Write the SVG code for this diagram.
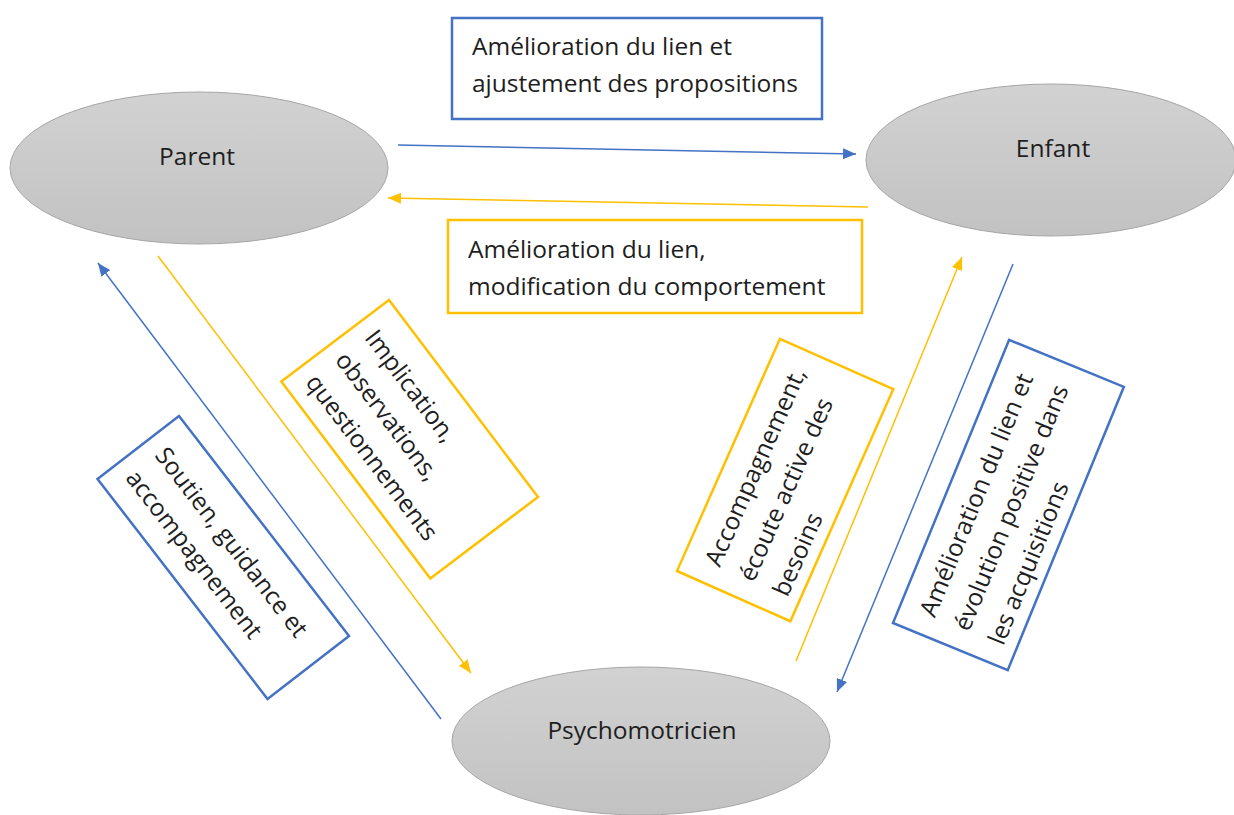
<svg xmlns="http://www.w3.org/2000/svg" width="1234" height="815" viewBox="0 0 1234 815">
<style>
text{font-family:"Open Sans","Liberation Sans",sans-serif;font-size:24.5px;fill:#1e1e1e}
.node{fill:url(#g);stroke:#a6a6a6;stroke-width:1}
.bb{fill:#fff;stroke:#4472C4;stroke-width:2.5}
.yb{fill:#fff;stroke:#FFC000;stroke-width:2.5}
.cb{stroke:#4472C4;stroke-width:1.5;fill:none}
.cy{stroke:#FFC000;stroke-width:1.5;fill:none}
.c{text-anchor:middle}
</style>
<defs>
<linearGradient id="g" x1="0" y1="0" x2="0" y2="1">
<stop offset="0" stop-color="#d2d2d2"/>
<stop offset="1" stop-color="#c2c2c2"/>
</linearGradient>
<marker id="ab" markerWidth="13" markerHeight="11" refX="13" refY="5.5" orient="auto" markerUnits="userSpaceOnUse"><path d="M0,0 L13,5.5 L0,11 z" fill="#4472C4"/></marker>
<marker id="ay" markerWidth="13" markerHeight="11" refX="13" refY="5.5" orient="auto" markerUnits="userSpaceOnUse"><path d="M0,0 L13,5.5 L0,11 z" fill="#FFC000"/></marker>
</defs>
<rect width="1234" height="815" fill="#fff"/>
<g id="connectors">
<line class="cb" x1="398" y1="145" x2="856" y2="154" marker-end="url(#ab)"/>
<line class="cy" x1="868" y1="207" x2="388" y2="198" marker-end="url(#ay)"/>
<line class="cy" x1="158" y1="256" x2="471" y2="673" marker-end="url(#ay)"/>
<line class="cb" x1="441" y1="719" x2="98" y2="263" marker-end="url(#ab)"/>
<line class="cy" x1="796" y1="661" x2="962" y2="257" marker-end="url(#ay)"/>
<line class="cb" x1="1013" y1="264" x2="837" y2="692" marker-end="url(#ab)"/>
</g>
<g id="parent">
<ellipse class="node" cx="199" cy="168" rx="189" ry="76"/>
<text class="c" x="197" y="165">Parent</text>
</g>
<g id="enfant">
<ellipse class="node" cx="1051" cy="160" rx="185" ry="76"/>
<text class="c" x="1053" y="157">Enfant</text>
</g>
<g id="psychomotricien">
<ellipse class="node" cx="641" cy="741" rx="189" ry="74"/>
<text class="c" x="642" y="739">Psychomotricien</text>
</g>
<g id="label-top">
<rect class="bb" x="452" y="18" width="370" height="101"/>
<text x="472" y="55">Amélioration du lien et</text>
<text x="472" y="92">ajustement des propositions</text>
</g>
<g id="label-mid">
<rect class="yb" x="448" y="220" width="414" height="93"/>
<text x="468" y="258">Amélioration du lien,</text>
<text x="468" y="295">modification du comportement</text>
</g>
<g id="label-implication" transform="translate(389,300) rotate(52.9)">
<rect class="yb" x="0" y="0" width="247" height="135"/>
<text x="15" y="43">Implication,</text>
<text x="15" y="80">observations,</text>
<text x="15" y="117">questionnements</text>
</g>
<g id="label-soutien" transform="translate(179,416) rotate(52.3)">
<rect class="bb" x="0" y="0" width="278" height="103"/>
<text x="16" y="44">Soutien, guidance et</text>
<text x="16" y="81">accompagnement</text>
</g>
<g id="label-accompagnement" transform="translate(677,571) rotate(-66.1)">
<rect class="yb" x="0" y="0" width="254" height="124"/>
<text x="20" y="38">Accompagnement,</text>
<text x="20" y="75">écoute active des</text>
<text x="20" y="112">besoins</text>
</g>
<g id="label-evolution" transform="translate(893,623) rotate(-67.7)">
<rect class="bb" x="0" y="0" width="306" height="124"/>
<text x="20" y="37">Amélioration du lien et</text>
<text x="20" y="74">évolution positive dans</text>
<text x="20" y="111">les acquisitions</text>
</g>
</svg>
